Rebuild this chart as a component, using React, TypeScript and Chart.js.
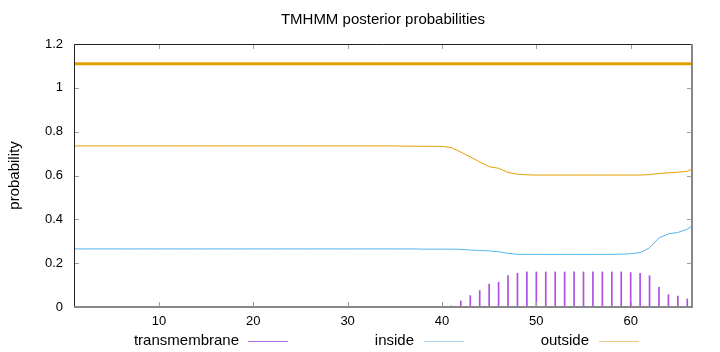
import React, { useEffect, useRef } from 'react';
import { Chart, registerables } from 'chart.js';

Chart.register(...registerables);

const TITLE = 'TMHMM posterior probabilities';
const Y_LABEL = 'probability';

const xTicks = [10, 20, 30, 40, 50, 60];
const yTicks = [0, 0.2, 0.4, 0.6, 0.8, 1, 1.2];

const residues = [
  1, 2, 3, 4, 5, 6, 7, 8, 9, 10, 11, 12, 13, 14, 15, 16, 17, 18, 19, 20,
  21, 22, 23, 24, 25, 26, 27, 28, 29, 30, 31, 32, 33, 34, 35, 36, 37, 38, 39, 40,
  41, 42, 43, 44, 45, 46, 47, 48, 49, 50, 51, 52, 53, 54, 55, 56, 57, 58, 59, 60,
  61, 62, 63, 64, 65, 66, 67,
];

const outsideProb = [
  0.735, 0.735, 0.735, 0.735, 0.735, 0.735, 0.735, 0.735, 0.735, 0.735,
  0.735, 0.735, 0.735, 0.735, 0.735, 0.735, 0.735, 0.735, 0.735, 0.735,
  0.735, 0.735, 0.735, 0.735, 0.735, 0.735, 0.735, 0.735, 0.735, 0.735,
  0.735, 0.735, 0.735, 0.735, 0.735, 0.734, 0.734, 0.733, 0.733, 0.733,
  0.727, 0.707, 0.685, 0.662, 0.640, 0.633, 0.614, 0.606, 0.603, 0.602,
  0.602, 0.602, 0.602, 0.602, 0.602, 0.602, 0.602, 0.602, 0.602, 0.602,
  0.602, 0.604, 0.609, 0.612, 0.615, 0.619, 0.638,
];

const insideProb = [
  0.265, 0.265, 0.265, 0.265, 0.265, 0.265, 0.265, 0.265, 0.265, 0.265,
  0.265, 0.265, 0.265, 0.265, 0.265, 0.265, 0.265, 0.265, 0.265, 0.265,
  0.265, 0.265, 0.265, 0.265, 0.265, 0.265, 0.265, 0.265, 0.265, 0.265,
  0.265, 0.265, 0.265, 0.265, 0.265, 0.265, 0.265, 0.264, 0.264, 0.264,
  0.264, 0.263, 0.260, 0.258, 0.256, 0.252, 0.245, 0.240, 0.240, 0.240,
  0.240, 0.240, 0.240, 0.240, 0.240, 0.240, 0.240, 0.240, 0.241, 0.243,
  0.248, 0.270, 0.315, 0.334, 0.340, 0.355, 0.385,
];

const tmResidues = [
  41, 42, 43, 44, 45, 46, 47, 48, 49, 50, 51, 52, 53,
  54, 55, 56, 57, 58, 59, 60, 61, 62, 63, 64, 65, 66,
];
const tmProb = [
  0.005, 0.027, 0.052, 0.075, 0.105, 0.113, 0.143, 0.154, 0.160, 0.160, 0.160, 0.160, 0.160,
  0.160, 0.160, 0.160, 0.160, 0.160, 0.160, 0.157, 0.154, 0.143, 0.090, 0.056, 0.050, 0.037,
];

const topologyStart = [1];
const topologyEnd = [67];
const topologyLevel = [1.11];

const legendLabels = ['transmembrane', 'inside', 'outside'];
const legendColors = ['#b56ee0', '#a9d6ee', '#eec88a'];

const FONT = "'Liberation Sans', Arial, sans-serif";

const framePlugin = {
  id: 'gnuplotFrame',
  afterDraw(chart: any) {
    const { ctx, chartArea: a, scales } = chart;
    const xs = scales.x;
    const ys = scales.y;
    ctx.save();
    // inward ticks
    ctx.strokeStyle = '#a0a0a0';
    ctx.lineWidth = 1;
    ctx.beginPath();
    xTicks.forEach((v) => {
      const px = Math.round(xs.getPixelForValue(v)) + 0.5;
      ctx.moveTo(px, a.bottom);
      ctx.lineTo(px, a.bottom - 5);
      ctx.moveTo(px, a.top);
      ctx.lineTo(px, a.top + 5);
    });
    yTicks.forEach((v) => {
      const py = Math.round(ys.getPixelForValue(v)) + 0.5;
      ctx.moveTo(a.left, py);
      ctx.lineTo(a.left + 5, py);
      ctx.moveTo(a.right, py);
      ctx.lineTo(a.right - 5, py);
    });
    ctx.stroke();
    // border
    ctx.strokeStyle = '#222';
    ctx.lineWidth = 1;
    ctx.beginPath();
    ctx.moveTo(a.left + 0.5, a.bottom);
    ctx.lineTo(a.left + 0.5, a.top + 0.5);
    ctx.lineTo(a.right, a.top + 0.5);
    ctx.stroke();
    ctx.strokeStyle = '#888';
    ctx.lineWidth = 2;
    ctx.beginPath();
    ctx.moveTo(a.left, a.bottom);
    ctx.lineTo(a.right, a.bottom);
    ctx.moveTo(a.right, a.top);
    ctx.lineTo(a.right, a.bottom + 1);
    ctx.stroke();

    // title
    ctx.fillStyle = '#000';
    ctx.font = `15px ${FONT}`;
    ctx.textAlign = 'center';
    ctx.textBaseline = 'middle';
    ctx.fillText(TITLE, (a.left + a.right) / 2, 20);

    // y axis label
    ctx.save();
    ctx.translate(15, (a.top + a.bottom) / 2);
    ctx.rotate(-Math.PI / 2);
    ctx.fillText(Y_LABEL, 0, 0);
    ctx.restore();

    // legend
    const textRights = [239, 414, 589];
    const samples = [[248, 288], [424, 464], [599, 639]];
    const ly = 341;
    legendLabels.forEach((label, i) => {
      ctx.fillStyle = '#000';
      ctx.textAlign = 'right';
      ctx.fillText(label, textRights[i], ly);
      ctx.strokeStyle = legendColors[i];
      ctx.lineWidth = 1;
      ctx.beginPath();
      ctx.moveTo(samples[i][0], ly + 0.5);
      ctx.lineTo(samples[i][1], ly + 0.5);
      ctx.stroke();
    });
    ctx.restore();
  },
};

export default function App() {
  const ref = useRef<HTMLCanvasElement | null>(null);

  useEffect(() => {
    if (!ref.current) return;
    const chart = new Chart(ref.current, {
      type: 'line',
      data: {
        datasets: [
          {
            type: 'bar',
            label: legendLabels[0],
            data: tmResidues.map((x, i) => ({ x, y: tmProb[i] })),
            backgroundColor: '#b04ee4',
            borderWidth: 0,
            barThickness: 1,
          } as any,
          {
            label: legendLabels[1],
            data: residues.map((x, i) => ({ x, y: insideProb[i] })),
            borderColor: '#56b4e9',
            borderWidth: 1,
            pointRadius: 0,
            tension: 0,
            fill: false,
          } as any,
          {
            label: legendLabels[2],
            data: residues.map((x, i) => ({ x, y: outsideProb[i] })),
            borderColor: '#e69f00',
            borderWidth: 1,
            pointRadius: 0,
            tension: 0,
            fill: false,
          } as any,
          {
            label: 'topology',
            data: [
              { x: topologyStart[0], y: topologyLevel[0] },
              { x: topologyEnd[0], y: topologyLevel[0] },
            ],
            borderColor: '#e69f00',
            borderWidth: 3,
            pointRadius: 0,
            fill: false,
          } as any,
        ],
      },
      options: {
        animation: false,
        responsive: false,
        devicePixelRatio: 1,
        layout: { padding: { top: 44, right: 28, bottom: 0, left: 0 } },
        plugins: {
          legend: { display: false },
          title: { display: false },
          tooltip: { enabled: false },
        },
        scales: {
          x: {
            type: 'linear',
            min: 1,
            max: 66.5,
            offset: false,
            grid: { display: false, drawTicks: false },
            border: { display: false },
            afterBuildTicks: (s: any) => {
              s.ticks = xTicks.map((v) => ({ value: v }));
            },
            afterFit: (s: any) => {
              s.height = 45;
            },
            ticks: {
              padding: 7,
              autoSkip: false,
              maxRotation: 0,
              color: '#000',
              font: { family: FONT, size: 13 },
              callback: (v: any) => String(v),
            },
          },
          y: {
            type: 'linear',
            min: 0,
            max: 1.2,
            grid: { display: false, drawTicks: false },
            border: { display: false },
            afterBuildTicks: (s: any) => {
              s.ticks = yTicks.map((v) => ({ value: v }));
            },
            afterFit: (s: any) => {
              s.width = 74;
            },
            ticks: {
              padding: 11,
              color: '#000',
              font: { family: FONT, size: 13 },
              callback: (v: any) => String(v),
            },
          },
        },
      } as any,
      plugins: [framePlugin],
    });
    return () => chart.destroy();
  }, []);

  return (
    <div style={{ position: 'fixed', left: 0, top: 0, width: 720, height: 352, background: '#fff' }}>
      <canvas ref={ref} width={720} height={352} style={{ display: 'block' }} />
    </div>
  );
}
